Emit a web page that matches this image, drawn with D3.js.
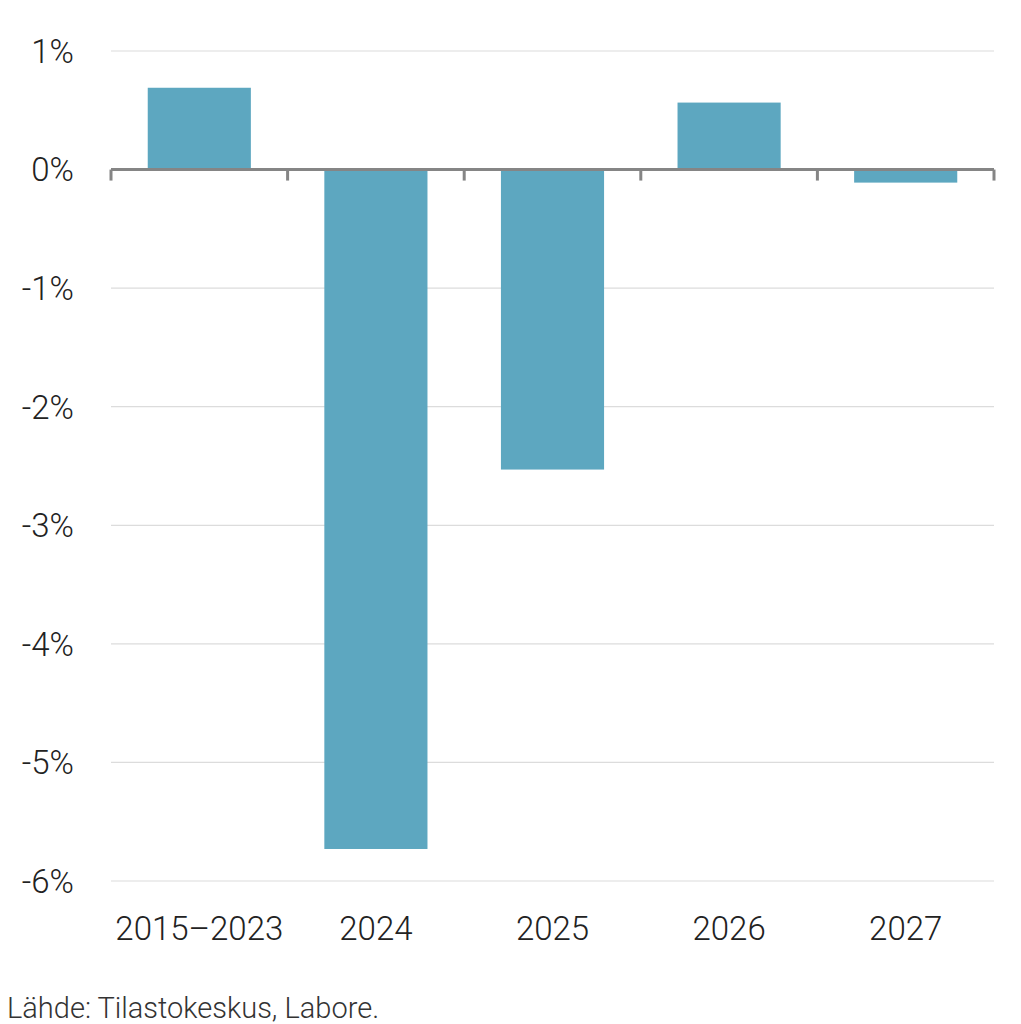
<!DOCTYPE html>
<html lang="fi">
<head>
<meta charset="UTF-8">
<title>Muutos</title>
<script src="https://d3js.org/d3.v7.min.js"></script>
<style>
  body { margin: 0; padding: 0; background: #fff; }
  text { font-family: Roboto, "Open Sans", sans-serif; font-weight: 300; }
</style>
</head>
<body>
<svg id="chart" width="1021" height="1024"></svg>
<script>
// data
const periods = ["2015\u20132023", "2024", "2025", "2026", "2027"];
const values = [0.69, -5.73, -2.53, 0.565, -0.11];
const yTicks = [1, 0, -1, -2, -3, -4, -5, -6];
const source = "Lähde: Tilastokeskus, Labore.";

const svg = d3.select("#chart");
const plotLeft = 111, plotRight = 994, plotTop = 51, plotBottom = 881;

const x = d3.scaleBand().domain(periods).range([plotLeft, plotRight]).paddingInner(0.416).paddingOuter(0.208);
const y = d3.scaleLinear().domain([-6, 1]).range([plotBottom, plotTop]);

// gridlines
svg.append("g").selectAll("line").data(yTicks.filter(d => d !== 0)).join("line")
  .attr("x1", plotLeft).attr("x2", plotRight)
  .attr("y1", d => y(d)).attr("y2", d => y(d))
  .attr("stroke", "#dcdcdc").attr("stroke-width", 1.2);

// y labels
svg.append("g").selectAll("text").data(yTicks).join("text")
  .attr("x", 74).attr("y", d => y(d))
  .attr("dy", "0.36em")
  .attr("text-anchor", "end")
  .attr("font-size", 33)
  .attr("fill", "#222")
  .text(d => d + "%");

// bars
svg.append("g").selectAll("rect").data(values).join("rect")
  .attr("x", (d, i) => x(periods[i]))
  .attr("width", x.bandwidth())
  .attr("y", d => y(Math.max(0, d)))
  .attr("height", d => Math.abs(y(d) - y(0)))
  .attr("fill", "#5da7c0");

// zero axis with ticks
const xTickPos = periods.map(p => x(p) - x.step() * x.paddingInner() / 2).concat([plotRight]);
const axis = svg.append("g").attr("stroke", "#858585").attr("stroke-width", 3).attr("fill", "none");
axis.append("line").attr("x1", plotLeft).attr("x2", plotRight).attr("y1", y(0)).attr("y2", y(0));
axis.selectAll("line.tick").data(xTickPos).join("line")
  .attr("class", "tick")
  .attr("x1", d => d).attr("x2", d => d)
  .attr("y1", y(0)).attr("y2", y(0) + 11);

// x labels
svg.append("g").selectAll("text").data(periods).join("text")
  .attr("x", d => x(d) + x.bandwidth() / 2)
  .attr("y", 940)
  .attr("text-anchor", "middle")
  .attr("font-size", 33)
  .attr("fill", "#222")
  .text(d => d);

// source
svg.append("text")
  .attr("x", 7).attr("y", 1018)
  .attr("font-size", 29)
  .attr("fill", "#333")
  .text(source);
</script>
</body>
</html>
